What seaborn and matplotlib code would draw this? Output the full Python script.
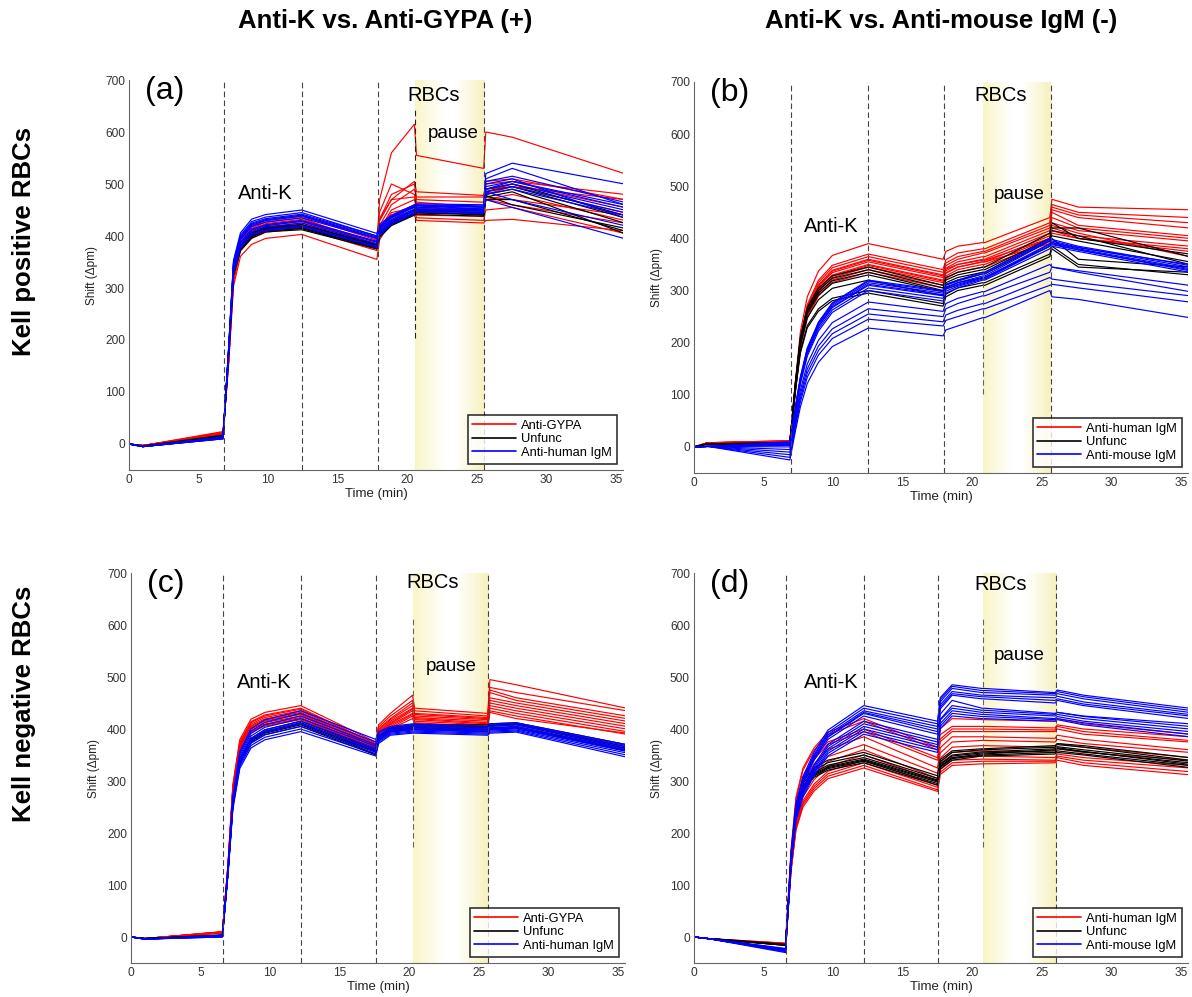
import numpy as np
import pandas as pd
import matplotlib
matplotlib.use("Agg")
import matplotlib.pyplot as plt
import seaborn as sns
from matplotlib.lines import Line2D

# ---------------- data ----------------
GROUP_COLORS = {"red": "#ff0000", "black": "#000000", "blue": "#0000ff"}
LEGEND_LEFT = ["Anti-GYPA", "Unfunc", "Anti-human IgM"]
LEGEND_RIGHT = ["Anti-human IgM", "Unfunc", "Anti-mouse IgM"]
COL_TITLES = ["Anti-K vs. Anti-GYPA (+)", "Anti-K vs. Anti-mouse IgM (-)"]
ROW_TITLES = ["Kell positive RBCs", "Kell negative RBCs"]
PANEL_TAGS = ["(a)", "(b)", "(c)", "(d)"]
X_TICKS = [0, 5, 10, 15, 20, 25, 30, 35]
Y_TICKS = [0, 100, 200, 300, 400, 500, 600, 700]

# event times (min): anti-K injection, wash, RBCs, pause start, resume
PHASES = {
    "a": (6.81, 12.41, 17.86, 20.56, 25.54),
    "b": (6.94, 12.53, 17.95, 20.80, 25.62),
    "c": (6.62, 12.20, 17.64, 20.28, 25.69),
    "d": (6.63, 12.20, 17.55, 20.74, 26.00),
}
# extent of the short dashed "pause" marker (Δpm)
PAUSE_MARK = {"a": (203, 645), "b": (102, 540), "c": (173, 615), "d": (173, 615)}

# value at t = 1 min for each group
EARLY = {
    "a": {"red": -3, "black": -4, "blue": -5},
    "b": {"red": 8, "black": 6, "blue": 1},
    "c": {"red": -3, "black": -3, "blue": -4},
    "d": {"red": -3, "black": -3, "blue": -3},
}
# fraction of plateau reached 0.35, 0.7, 1.2, 2, 3 min after injection
RISE = {
    "a": {"red": [0.35, 0.74, 0.89, 0.95, 0.98], "black": [0.4, 0.78, 0.9, 0.96, 0.99],
          "blue": [0.4, 0.78, 0.9, 0.96, 0.98]},
    "b": {"red": [0.3, 0.55, 0.73, 0.86, 0.94], "black": [0.35, 0.6, 0.77, 0.88, 0.95],
          "blue": [0.22, 0.4, 0.58, 0.74, 0.86]},
    "c": {"red": [0.3, 0.65, 0.85, 0.94, 0.97], "black": [0.3, 0.62, 0.82, 0.92, 0.96],
          "blue": [0.3, 0.62, 0.82, 0.92, 0.96]},
    "d": {"red": [0.42, 0.65, 0.78, 0.87, 0.94], "black": [0.45, 0.72, 0.85, 0.92, 0.96],
          "blue": [0.4, 0.6, 0.71, 0.81, 0.9]},
}
# fraction of the RBC step reached 0.15 min after RBC injection
STEP = {"a": 0.5, "b": 0.6, "c": 0.6, "d": 0.65}

# per trace: pre-injection, plateau at wash, end of wash, 1 min after RBCs,
# before pause, after pause, before resume, after resume, 2 min after resume, end
A_RED = [
    [22, 435, 380, 560, 615, 555, 530, 600, 590, 520],
    [24, 440, 395, 470, 505, 485, 478, 500, 505, 480],
    [20, 403, 355, 430, 440, 430, 425, 430, 432, 410],
    [20, 430, 385, 480, 500, 470, 465, 490, 495, 470],
    [18, 425, 380, 460, 490, 475, 475, 485, 500, 455],
    [22, 438, 392, 500, 480, 465, 455, 480, 495, 445],
    [17, 420, 375, 450, 470, 455, 450, 475, 470, 440],
    [20, 428, 383, 440, 460, 450, 445, 470, 480, 430],
    [19, 415, 372, 445, 455, 440, 438, 470, 460, 425],
    [21, 432, 388, 470, 475, 460, 440, 505, 510, 470],
    [18, 422, 380, 435, 450, 435, 430, 450, 455, 405],
]
A_BLACK = [
    [14, 418, 380, 425, 445, 448, 445, 480, 490, 425],
    [16, 422, 384, 428, 448, 450, 448, 485, 495, 435],
    [12, 412, 375, 420, 440, 442, 438, 470, 470, 410],
    [15, 416, 378, 423, 443, 446, 440, 475, 485, 405],
    [17, 420, 382, 426, 450, 452, 450, 490, 500, 440],
    [13, 414, 377, 422, 442, 444, 442, 478, 460, 415],
]
A_BLUE = [
    [10, 450, 405, 440, 460, 462, 460, 520, 540, 500],
    [12, 445, 400, 438, 458, 460, 458, 510, 530, 460],
    [11, 440, 398, 435, 455, 458, 455, 505, 515, 465],
    [13, 435, 395, 432, 452, 455, 452, 495, 505, 455],
    [10, 430, 390, 430, 450, 452, 450, 490, 500, 450],
    [12, 425, 385, 428, 448, 450, 448, 485, 495, 445],
    [14, 420, 380, 425, 445, 448, 445, 480, 490, 440],
    [11, 418, 378, 423, 443, 446, 443, 470, 455, 395],
    [13, 428, 388, 430, 450, 452, 448, 500, 510, 435],
    [12, 438, 396, 436, 456, 458, 452, 485, 470, 420],
    [10, 442, 400, 437, 457, 459, 456, 490, 505, 460],
]
B_RED = [
    [12, 390, 360, 385, 392, 392, 440, 475, 460, 455],
    [10, 370, 340, 372, 380, 380, 430, 465, 450, 440],
    [11, 365, 335, 365, 375, 375, 425, 460, 445, 430],
    [9, 360, 330, 360, 372, 372, 420, 455, 440, 420],
    [10, 355, 325, 355, 365, 365, 415, 450, 425, 405],
    [12, 350, 320, 350, 360, 360, 410, 440, 420, 400],
    [8, 345, 315, 345, 355, 355, 405, 430, 415, 395],
    [10, 340, 310, 340, 350, 350, 400, 420, 405, 385],
    [9, 335, 305, 335, 345, 345, 395, 415, 400, 375],
    [11, 358, 328, 350, 358, 358, 400, 425, 410, 365],
    [10, 348, 318, 345, 355, 355, 390, 410, 400, 380],
]
B_BLACK = [
    [8, 345, 310, 335, 345, 345, 410, 430, 400, 370],
    [6, 335, 300, 325, 335, 335, 400, 420, 420, 365],
    [7, 330, 298, 320, 332, 332, 395, 405, 395, 355],
    [5, 320, 290, 315, 325, 325, 385, 400, 360, 345],
    [7, 300, 275, 305, 315, 315, 370, 385, 350, 330],
    [6, 295, 270, 300, 310, 310, 365, 380, 345, 335],
    [8, 340, 305, 330, 340, 340, 400, 415, 405, 350],
]
B_BLUE = [
    [-25, 228, 213, 232, 248, 248, 300, 288, 283, 248],
    [-20, 245, 232, 250, 265, 265, 310, 312, 305, 278],
    [-15, 255, 240, 262, 275, 275, 325, 322, 315, 290],
    [-10, 265, 250, 275, 290, 290, 335, 345, 338, 310],
    [-5, 278, 260, 285, 298, 298, 350, 345, 335, 298],
    [0, 300, 280, 305, 320, 320, 380, 385, 375, 335],
    [3, 305, 285, 308, 322, 322, 385, 388, 378, 338],
    [5, 310, 290, 312, 325, 325, 390, 392, 380, 342],
    [7, 315, 295, 315, 328, 328, 395, 395, 383, 345],
    [8, 318, 298, 318, 332, 332, 398, 398, 385, 348],
    [10, 320, 300, 320, 335, 335, 400, 392, 382, 350],
    [4, 312, 292, 310, 324, 324, 388, 390, 378, 340],
]
C_RED = [
    [10, 445, 375, 430, 465, 440, 430, 495, 485, 440],
    [9, 440, 372, 425, 455, 435, 425, 480, 470, 435],
    [10, 438, 370, 420, 450, 430, 422, 475, 460, 425],
    [8, 435, 368, 418, 445, 428, 420, 470, 455, 420],
    [9, 432, 366, 415, 440, 425, 418, 460, 450, 415],
    [10, 430, 365, 412, 438, 422, 415, 455, 445, 410],
    [8, 428, 364, 410, 435, 420, 412, 450, 440, 405],
    [9, 425, 362, 408, 430, 418, 410, 445, 435, 400],
    [10, 422, 361, 405, 428, 415, 408, 440, 430, 395],
    [8, 420, 360, 402, 425, 412, 405, 435, 425, 390],
    [9, 418, 360, 400, 420, 410, 402, 432, 420, 392],
]
C_BLACK = [
    [3, 415, 360, 402, 408, 408, 408, 410, 412, 370],
    [4, 412, 357, 400, 406, 406, 405, 407, 410, 366],
    [2, 410, 355, 398, 404, 404, 403, 405, 408, 363],
    [3, 408, 352, 396, 402, 402, 400, 402, 405, 360],
    [4, 405, 350, 395, 400, 400, 398, 400, 402, 358],
]
C_BLUE = [
    [2, 435, 380, 405, 410, 410, 405, 410, 412, 370],
    [1, 430, 375, 403, 408, 408, 403, 408, 410, 368],
    [3, 425, 370, 400, 405, 405, 400, 405, 408, 365],
    [2, 420, 367, 398, 403, 403, 398, 402, 405, 362],
    [0, 415, 363, 396, 400, 400, 396, 400, 403, 360],
    [1, 410, 360, 394, 398, 398, 394, 398, 400, 357],
    [2, 405, 356, 392, 396, 396, 392, 396, 398, 354],
    [3, 400, 352, 390, 394, 394, 390, 394, 396, 350],
    [1, 395, 348, 388, 392, 392, 388, 392, 394, 346],
    [0, 412, 358, 395, 399, 399, 395, 399, 402, 358],
]
D_RED = [
    [-12, 420, 365, 420, 418, 418, 415, 420, 410, 390],
    [-13, 415, 360, 405, 405, 405, 402, 408, 400, 385],
    [-14, 400, 345, 400, 400, 400, 398, 405, 395, 378],
    [-12, 395, 340, 395, 395, 395, 395, 400, 390, 375],
    [-15, 385, 325, 385, 385, 385, 382, 388, 380, 360],
    [-14, 370, 315, 375, 378, 378, 375, 380, 372, 355],
    [-13, 360, 305, 365, 368, 368, 365, 372, 365, 345],
    [-15, 350, 300, 355, 358, 358, 355, 362, 355, 340],
    [-14, 340, 292, 345, 348, 348, 345, 352, 345, 330],
    [-16, 335, 288, 340, 342, 342, 340, 348, 340, 325],
    [-15, 330, 283, 335, 338, 338, 338, 345, 335, 318],
    [-16, 325, 280, 330, 333, 333, 335, 340, 330, 312],
]
D_BLACK = [
    [-15, 355, 310, 358, 362, 362, 368, 372, 368, 345],
    [-15, 350, 305, 355, 360, 360, 365, 370, 365, 340],
    [-16, 345, 302, 350, 356, 356, 362, 366, 360, 338],
    [-14, 342, 300, 348, 354, 354, 358, 362, 356, 335],
    [-16, 338, 295, 343, 350, 350, 355, 358, 352, 330],
    [-15, 335, 292, 340, 348, 348, 352, 355, 350, 326],
    [-15, 340, 298, 345, 352, 352, 360, 364, 357, 332],
]
D_BLUE = [
    [-25, 445, 415, 485, 478, 478, 470, 475, 465, 440],
    [-28, 440, 410, 482, 474, 474, 468, 472, 462, 436],
    [-22, 435, 405, 478, 470, 470, 465, 468, 458, 432],
    [-30, 432, 400, 472, 465, 465, 460, 463, 452, 428],
    [-26, 430, 395, 468, 462, 462, 455, 458, 448, 425],
    [-24, 425, 390, 465, 458, 458, 450, 455, 445, 420],
    [-28, 415, 380, 455, 440, 440, 430, 432, 425, 410],
    [-25, 410, 375, 440, 432, 432, 425, 428, 420, 400],
    [-27, 400, 365, 435, 428, 428, 420, 424, 415, 395],
    [-23, 395, 360, 430, 424, 424, 418, 420, 412, 390],
    [-26, 390, 355, 425, 420, 420, 415, 418, 408, 385],
    [-24, 405, 370, 445, 436, 436, 428, 432, 424, 405],
]
TRACES = {
    "a": {"red": A_RED, "black": A_BLACK, "blue": A_BLUE},
    "b": {"red": B_RED, "black": B_BLACK, "blue": B_BLUE},
    "c": {"red": C_RED, "black": C_BLACK, "blue": C_BLUE},
    "d": {"red": D_RED, "black": D_BLACK, "blue": D_BLUE},
}
T_END = 35.6


def knot_times(ph):
    inj, wash, rbc, pause, resume = ph
    return [0.0, 1.0, inj - 0.05, inj + 0.35, inj + 0.7, inj + 1.2, inj + 2.0,
            inj + 3.0, wash, rbc - 0.05, rbc + 0.15, rbc + 1.0, pause - 0.05,
            pause + 0.1, resume - 0.05, resume + 0.1, resume + 2.0, T_END]


def knot_values(early, fr, step, a):
    pre, P, W, S1, R, R2, Q, J, M, E = a
    rise = [pre + f * (P - pre) for f in fr]
    return [0, early, pre] + rise + [P, W, W + step * (S1 - W), S1, R, R2, Q, J, M, E]


def panel_frame(key):
    rows = []
    t = knot_times(PHASES[key])
    for g in ["red", "black", "blue"]:
        for i, a in enumerate(TRACES[key][g]):
            v = knot_values(EARLY[key][g], RISE[key][g], STEP[key], a)
            for tt, vv in zip(t, v):
                rows.append({"time": tt, "shift": vv, "group": g, "trace": f"{g}{i}"})
    return pd.DataFrame(rows)


# ---------------- figure ----------------
sns.set_theme(style="white")
plt.rcParams["font.family"] = ["Liberation Sans", "DejaVu Sans"]
plt.rcParams["axes.linewidth"] = 0.8
plt.rcParams["text.color"] = "black"
plt.rcParams["axes.labelcolor"] = "#222222"

W, H = 1192, 997
fig = plt.figure(figsize=(W / 100, H / 100), dpi=100)

boxes = {  # left, top, right, bottom in pixels
    "a": (129, 80, 623, 470),
    "b": (694, 82, 1188, 473),
    "c": (131, 573, 625, 963),
    "d": (694, 573, 1188, 963),
}
labels = {"a": LEGEND_LEFT, "b": LEGEND_RIGHT, "c": LEGEND_LEFT, "d": LEGEND_RIGHT}
texts = {
    "a": {"Anti-K": (9.8, 482), "RBCs": (21.9, 671), "pause": (23.3, 597)},
    "b": {"Anti-K": (9.9, 423), "RBCs": (22.0, 675), "pause": (23.4, 485)},
    "c": {"Anti-K": (9.6, 490), "RBCs": (21.7, 681), "pause": (23.0, 520)},
    "d": {"Anti-K": (9.9, 489), "RBCs": (22.0, 678), "pause": (23.4, 542)},
}

# yellow gradient used for the pause band
pos = [0.0, 0.42, 0.58, 1.0]
xs = np.linspace(0, 1, 200)
cr = np.interp(xs, pos, [0.975, 1.0, 1.0, 0.965])
cg = np.interp(xs, pos, [0.962, 1.0, 1.0, 0.945])
cb = np.interp(xs, pos, [0.78, 1.0, 1.0, 0.74])
grad = np.dstack([cr, cg, cb])

for idx, key in enumerate(["a", "b", "c", "d"]):
    l, t, r, b = boxes[key]
    ax = fig.add_axes([l / W, 1 - b / H, (r - l) / W, (b - t) / H])
    inj, wash, rbc, pause, resume = PHASES[key]

    ax.imshow(grad, extent=[pause, resume, -50, 700], aspect="auto", zorder=0.2,
              interpolation="bilinear")

    df = panel_frame(key)
    sns.lineplot(data=df, x="time", y="shift", hue="group", units="trace",
                 estimator=None, palette=GROUP_COLORS, hue_order=["red", "black", "blue"],
                 linewidth=0.85, legend=False, sort=False, ax=ax, zorder=2)

    for x in [inj, wash, rbc, resume]:
        ax.axvline(x, color="#444444", ls=(0, (5, 3)), lw=0.8, zorder=3)
    lo, hi = PAUSE_MARK[key]
    ax.plot([pause, pause], [lo, hi], color="#222222" if key == "a" else "#666666",
            ls=(0, (5, 3)), lw=0.8, zorder=3)

    ax.set_xlim(0, 35.5)
    ax.set_ylim(-50, 700)
    ax.set_xticks(X_TICKS)
    ax.set_yticks(Y_TICKS)
    ax.set_xlabel("Time (min)", fontsize=9.5, labelpad=1)
    ax.set_ylabel("Shift (\u0394pm)", fontsize=8.5, labelpad=5)
    ax.tick_params(direction="in", length=3.5, width=0.8, colors="#555555",
                   labelsize=8.6, labelcolor="#333333", pad=3)
    for s in ["top", "right"]:
        ax.spines[s].set_visible(False)
    for s in ["left", "bottom"]:
        ax.spines[s].set_color("#666666")

    ax.text(0.033, 0.972, PANEL_TAGS[idx], transform=ax.transAxes, fontsize=23,
            ha="left", va="center", color="black")
    for s, (x, y) in texts[key].items():
        ax.text(x, y, s, fontsize=13.5 if s == "pause" else 14.5, ha="center",
                va="center", color="black", zorder=4)

    handles = [Line2D([], [], color=GROUP_COLORS[g], lw=1.2) for g in ["red", "black", "blue"]]
    leg = ax.legend(handles, labels[key], loc="lower right", fontsize=9.3,
                    frameon=True, fancybox=False, edgecolor="black",
                    handlelength=3.4, handletextpad=0.4, labelspacing=0.12,
                    borderpad=0.35, borderaxespad=0.5)
    leg.get_frame().set_linewidth(1.2)
    leg.set_zorder(5)
    for txt in leg.get_texts():
        txt.set_color("black")

fig.text(385 / W, 1 - 21 / H, COL_TITLES[0], fontsize=18.5, fontweight="bold",
         ha="center", va="center", color="black")
fig.text(941 / W, 1 - 21 / H, COL_TITLES[1], fontsize=18.5, fontweight="bold",
         ha="center", va="center", color="black")
fig.text(24 / W, 1 - 242 / H, ROW_TITLES[0], fontsize=18.5, fontweight="bold",
         ha="center", va="center", rotation=90, color="black")
fig.text(24 / W, 1 - 704 / H, ROW_TITLES[1], fontsize=18.5, fontweight="bold",
         ha="center", va="center", rotation=90, color="black")

fig.savefig("out.png", dpi=100, facecolor="white")
